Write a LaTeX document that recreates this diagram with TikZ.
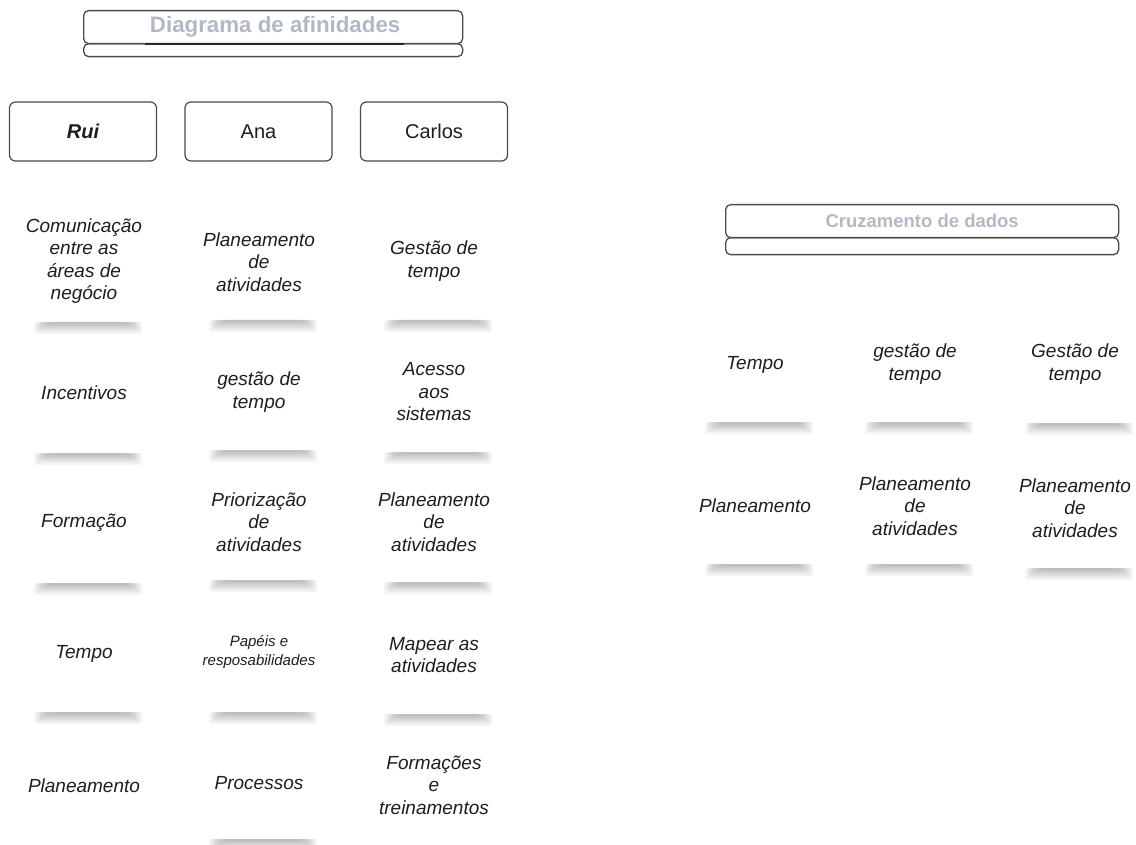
\documentclass[tikz,border=0pt]{standalone}
\usepackage{fontspec}
\setmainfont{Liberation Sans}
\usetikzlibrary{calc}
\definecolor{titlegray}{RGB}{178,185,197}
\definecolor{ink}{RGB}{30,30,30}
\definecolor{edge}{RGB}{75,75,75}
\newcommand\noteshadow[2]{%
  \foreach \hh/\ww in {12/54,10/52,8/50,6.5/48,5/46,3.5/43,2/39}{%
    \fill[black,opacity=.04,rounded corners=1.5pt]
      ($(#1.center)+({4-\ww},{#2-4})$) rectangle ($(#1.center)+({4+\ww},{#2-4+\hh})$);
  }%
}
\tikzset{
  hdr/.style={draw=edge,line width=1.3pt,rounded corners=5pt,fill=white,anchor=north west,inner sep=0pt},
  hdrtext/.style={text=titlegray,font=\bfseries},
  person/.style={draw=edge,line width=1.2pt,rounded corners=6pt,minimum width=147pt,minimum height=59pt,
     font=\fontsize{20}{23}\selectfont,text=ink,inner sep=0pt},
  note/.style={align=center,font=\fontsize{19}{22.5}\selectfont\itshape,text=ink,inner sep=0pt},
  smallnote/.style={note,font=\fontsize{15}{19}\selectfont\itshape},
}
\begin{document}
\begin{tikzpicture}[x=1pt,y=-1pt]
\useasboundingbox[fill=white] (0,0) rectangle (1136,845);

% headers
\node[hdr,minimum width=379pt,minimum height=13pt] (t1b) at (83,43) {};
\node[hdr,minimum width=379pt,minimum height=33pt] (t1) at (83,10) {};
\node[hdrtext,font=\fontsize{22.3}{24}\selectfont\bfseries] (t1t) at ([xshift=2pt]t1.center) {Diagrama de afinidades};
\draw[line width=2pt,black!85] ([xshift=62pt]t1.south west) -- ([xshift=-59pt]t1.south east);

\node[hdr,minimum width=393pt,minimum height=17pt] (t2b) at (725,237) {};
\node[hdr,minimum width=393pt,minimum height=33pt] (t2) at (725,204) {};
\node[hdrtext,font=\fontsize{18.5}{22}\selectfont\bfseries] (t2t) at (t2.center) {Cruzamento de dados};

% persons
\node[person] (rui) at (83,131.5) {\bfseries\itshape Rui};
\node[person] (ana) at (258.5,131.5) {Ana};
\node[person] (carlos) at (434,131.5) {Carlos};

% Rui column
\node[note] (r1) at (84,261) {Comunicação\\entre as\\áreas de\\negócio};
\node[note] (r2) at (84,393) {Incentivos};
\node[note] (r3) at (84,523) {Formação};
\node[note] (r4) at (84,654) {Tempo};
\node[note] (r5) at (84,786) {Planeamento};
% Ana column
\node[note] (a1) at (259,262) {Planeamento\\de\\atividades};
\node[note] (a2) at (259,392) {gestão de\\tempo};
\node[note] (a3) at (259,522) {Priorização\\de\\atividades};
\node[smallnote] (a4) at (259,652) {Papéis e\\resposabilidades};
\node[note] (a5) at (259,783) {Processos};
% Carlos column
\node[note] (c1) at (434,261) {Gestão de\\tempo};
\node[note] (c2) at (434,392) {Acesso\\aos\\sistemas};
\node[note] (c3) at (434,522) {Planeamento\\de\\atividades};
\node[note] (c4) at (434,655) {Mapear as\\atividades};
\node[note] (c5) at (434,785) {Formações\\e\\treinamentos};
% right side
\node[note] (x1) at (755,365) {Tempo};
\node[note] (x2) at (915,364) {gestão de\\tempo};
\node[note] (x3) at (1075,364) {Gestão de\\tempo};
\node[note] (x4) at (755,506) {Planeamento};
\node[note] (x5) at (915,506) {Planeamento\\de\\atividades};
\node[note] (x6) at (1075,508) {Planeamento\\de\\atividades};

% shadows
\noteshadow{r1}{65}
\noteshadow{r2}{64}
\noteshadow{r3}{64}
\noteshadow{r4}{62}
\noteshadow{a1}{62}
\noteshadow{a2}{62}
\noteshadow{a3}{62}
\noteshadow{a4}{64}
\noteshadow{a5}{60}
\noteshadow{c1}{63}
\noteshadow{c2}{64}
\noteshadow{c3}{64}
\noteshadow{c4}{63}
\noteshadow{x1}{61}
\noteshadow{x2}{62}
\noteshadow{x3}{63}
\noteshadow{x4}{62}
\noteshadow{x5}{62}
\noteshadow{x6}{64}
\end{tikzpicture}
\end{document}
